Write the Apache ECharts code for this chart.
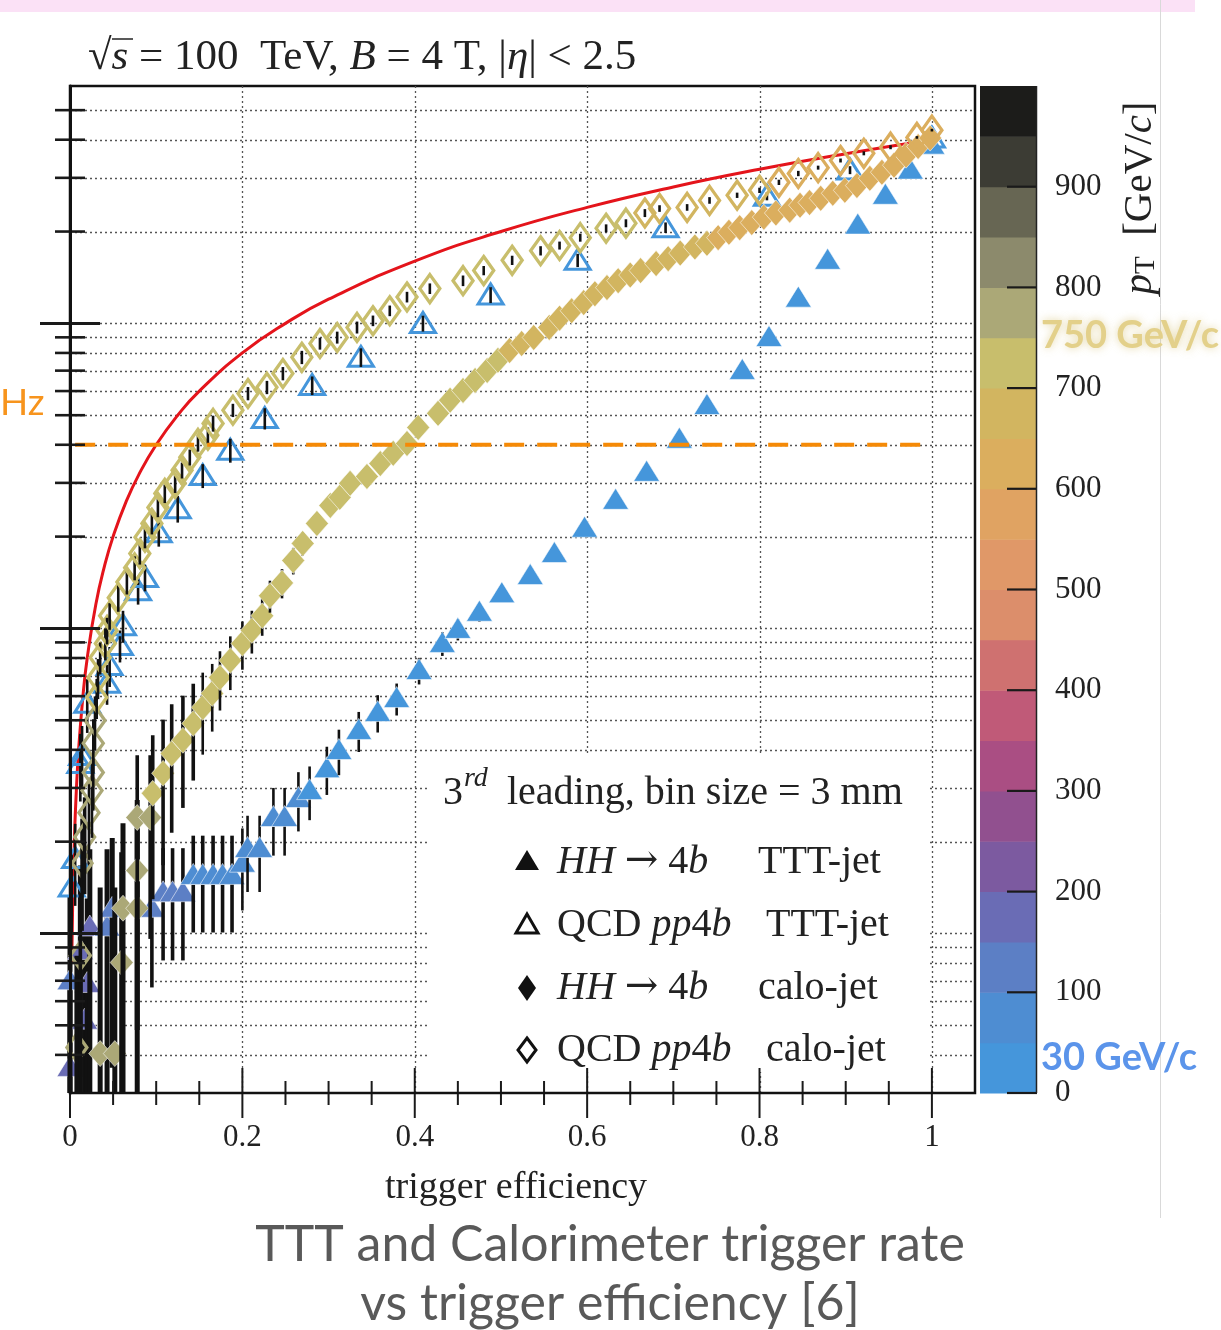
<!DOCTYPE html>
<html><head><meta charset="utf-8">
<script src="https://cdn.jsdelivr.net/npm/echarts@6/dist/echarts.min.js"></script>
<style>html,body{margin:0;padding:0;background:#fff}#c{width:1221px;height:1330px}</style>
</head><body><div id="c"></div>
<script>
// ---------------- DATA ----------------
// axis ranges
const Y_MIN = 3e4, Y_MAX = 6e7, X_MAX = 1.05;
const xMajorTicks = [0, 0.2, 0.4, 0.6, 0.8, 1.0];
const xTickLabels = ['0', '0.2', '0.4', '0.6', '0.8', '1'];
const xMinorTicks = [0.05,0.1,0.15,0.25,0.3,0.35,0.45,0.5,0.55,0.65,0.7,0.75,0.85,0.9,0.95];
const yMajorTicks = [1e5, 1e6, 1e7];
const yMinorTicks = [4e4,5e4,6e4,7e4,8e4,9e4,2e5,3e5,4e5,5e5,6e5,7e5,8e5,9e5,2e6,3e6,4e6,5e6,6e6,7e6,8e6,9e6,2e7,3e7,4e7,5e7];
const ptEdges = [0,50,100,150,200,250,300,350,400,450,500,550,600,650,700,750,800,850,900,950,1000];
const ptTicks = [0,100,200,300,400,500,600,700,800,900];

// HH -> 4b, TTT-jet (filled triangles)
const effHHTTT = [0.0,0.017,0.0,0.020,0.012,0.023,0.043,0.049,0.095,0.108,0.119,0.131,0.143,0.154,0.166,0.177,0.188,0.200,0.206,0.220,0.236,0.249,0.265,0.278,0.298,0.312,0.335,0.357,0.379,0.405,0.432,0.450,0.475,0.501,0.534,0.562,0.597,0.633,0.669,0.707,0.739,0.780,0.811,0.845,0.879,0.914,0.946,0.975,1.0];
const rateHHTTT = [3.64e4,5.2e4,7.0e4,6.86e4,8.8e4,1.05e5,1.05e5,1.21e5,1.21e5,1.36e5,1.36e5,1.36e5,1.55e5,1.55e5,1.55e5,1.55e5,1.55e5,1.70e5,1.90e5,1.90e5,2.40e5,2.40e5,2.77e5,2.94e5,3.47e5,3.98e5,4.63e5,5.30e5,5.89e5,7.28e5,8.93e5,9.93e5,1.13e6,1.30e6,1.49e6,1.76e6,2.13e6,2.63e6,3.25e6,4.17e6,5.38e6,7.01e6,8.99e6,1.21e7,1.61e7,2.10e7,2.63e7,3.18e7,3.84e7];
const ptHHTTT = [190,180,140,170,165,150,145,130,120,110,105,100,95,90,85,80,75,70,66,62,58,55,52,49,48,47,46,45,44,43,42,41,40,39,38,37,36,35,34,30,28,26,24,22,20,18,16,14,12];
const errHHTTT = [1.0,1.0,0.9,0.9,0.9,0.8,0.8,0.7,0.45,0.4,0.4,0.4,0.35,0.35,0.35,0.35,0.35,0.3,0.28,0.28,0.25,0.25,0.22,0.2,0.18,0.17,0.15,0.14,0.12,0.1,0.09,0.08,0.07,0.06,0.05,0.05,0.04,0.04,0.03,0.03,0.02,0.02,0.02,0.02,0.015,0.015,0.01,0.01,0.01];

// QCD pp4b, TTT-jet (open triangles)
const effQCDTTT = [0.002,0.006,0.012,0.014,0.020,0.043,0.046,0.058,0.0615,0.079,0.087,0.103,0.125,0.154,0.186,0.226,0.281,0.3375,0.4095,0.488,0.589,0.691,0.8086,0.905,1.0];
const rateQCDTTT = [1.42e5,1.76e5,3.61e5,3.83e5,5.68e5,6.61e5,7.56e5,8.79e5,1.02e6,1.33e6,1.47e6,2.06e6,2.47e6,3.17e6,3.84e6,4.88e6,6.26e6,7.74e6,1.00e7,1.24e7,1.61e7,2.06e7,2.61e7,3.18e7,4.05e7];
const ptQCDTTT = [45,45,44,44,43,43,42,42,41,40,40,39,38,37,36,35,34,33,32,31,30,28,26,24,22];
const errQCDTTT = [0.3,0.3,0.25,0.25,0.2,0.15,0.15,0.12,0.12,0.1,0.1,0.1,0.1,0.09,0.09,0.08,0.07,0.07,0.06,0.06,0.05,0.04,0.03,0.03,0.02];

// HH -> 4b, calo-jet (filled diamonds)
const effHHcalo = [0.035,0.052,0.060,0.0615,0.078,0.078,0.078,0.093,0.096,0.108,
  0.118,0.131,0.143,0.154,0.165,0.174,0.186,0.200,0.211,0.223,
  0.232,0.246,0.259,0.270,0.2865,0.302,0.313,0.325,0.3445,0.360,
  0.375,0.391,0.404,0.427,0.441,0.456,0.470,0.484,0.4965,0.510,
  0.524,0.538,0.556,0.568,0.582,0.596,0.609,0.623,0.636,0.650,
  0.662,0.680,0.694,0.708,0.725,0.739,0.752,0.7645,0.777,0.791,
  0.805,0.819,0.835,0.847,0.858,0.871,0.885,0.899,0.913,0.928,
  0.942,0.956,0.970,0.984,0.998];
const rateHHcalo = [4.04e4,4.04e4,8.03e4,1.21e5,1.21e5,1.61e5,2.40e5,2.40e5,2.88e5,3.35e5,
  3.89e5,4.30e5,4.88e5,5.51e5,6.12e5,6.90e5,7.85e5,8.93e5,9.85e5,1.10e6,
  1.28e6,1.41e6,1.67e6,1.90e6,2.21e6,2.53e6,2.69e6,2.99e6,3.15e6,3.47e6,
  3.75e6,4.04e6,4.56e6,5.07e6,5.60e6,6.03e6,6.50e6,7.01e6,7.57e6,8.15e6,
  8.59e6,8.99e6,9.70e6,1.04e7,1.10e7,1.17e7,1.25e7,1.31e7,1.38e7,1.44e7,
  1.49e7,1.57e7,1.63e7,1.70e7,1.78e7,1.83e7,1.91e7,1.99e7,2.06e7,2.14e7,
  2.23e7,2.30e7,2.35e7,2.44e7,2.49e7,2.57e7,2.67e7,2.73e7,2.83e7,2.99e7,
  3.13e7,3.30e7,3.56e7,3.80e7,4.05e7];
const ptHHcalo = [790,788,785,782,780,776,772,768,745,744,
  743,742,741,740,739,738,737,736,735,734,
  733,732,731,730,729,728,727,726,725,724,
  723,722,720,718,716,714,712,710,705,698,
  695,692,690,688,686,684,682,680,678,676,
  674,672,670,668,666,662,648,645,642,640,
  638,636,634,632,630,628,626,624,622,620,
  618,616,614,612,610];
const errHHcalo = [2.5,2.5,1.3,0.9,0.9,0.7,0.6,0.6,0.55,0.5,
  0.45,0.4,0.35,0.3,0.25,0.22,0.2,0.18,0.16,0.14,
  0.12,0.11,0.1,0.09,0.08,0.07,0.07,0.06,0.06,0.05,
  0.05,0.05,0.04,0.04,0.04,0.035,0.035,0.03,0.03,0.03,
  0.03,0.025,0.025,0.025,0.02,0.02,0.02,0.02,0.02,0.02,
  0.02,0.015,0.015,0.015,0.015,0.015,0.015,0.015,0.01,0.01,
  0.01,0.01,0.01,0.01,0.01,0.01,0.01,0.01,0.01,0.01,
  0.01,0.01,0.01,0.01,0.01];

// QCD pp4b, calo-jet (open diamonds)
const effQCDcalo = [0.008,0.012,0.014,0.017,0.022,0.0255,0.027,0.027,0.029,0.031,
  0.0325,0.035,0.041,0.043,0.046,0.056,0.066,0.075,0.081,0.087,
  0.095,0.102,0.110,0.122,0.130,0.139,0.1485,0.160,0.166,0.189,
  0.2065,0.2285,0.247,0.269,0.290,0.310,0.333,0.3515,0.371,0.391,
  0.4175,0.456,0.480,0.513,0.546,0.568,0.592,0.622,0.645,0.667,
  0.684,0.716,0.742,0.774,0.800,0.8225,0.845,0.868,0.894,0.921,
  0.952,0.9826,1.0];
const rateQCDcalo = [4.23e4,8.47e4,1.70e5,2.07e5,2.49e5,2.94e5,3.37e5,4.20e5,4.99e5,5.94e5,
  6.90e5,8.03e5,8.93e5,9.85e5,1.10e6,1.26e6,1.42e6,1.58e6,1.76e6,1.99e6,
  2.21e6,2.49e6,2.77e6,2.99e6,3.30e6,3.64e6,4.04e6,4.30e6,4.70e6,5.19e6,
  5.89e6,6.17e6,6.85e6,7.74e6,8.59e6,8.99e6,9.70e6,1.02e7,1.10e7,1.22e7,
  1.30e7,1.38e7,1.49e7,1.61e7,1.73e7,1.80e7,1.91e7,2.05e7,2.13e7,2.30e7,
  2.38e7,2.40e7,2.53e7,2.63e7,2.73e7,2.90e7,3.10e7,3.24e7,3.42e7,3.61e7,
  3.78e7,4.07e7,4.30e7];
const ptQCDcalo = [790,785,780,776,772,768,764,760,756,748,
  746,744,742,740,739,738,737,736,735,734,
  733,732,731,730,729,728,727,726,725,724,
  723,722,721,720,719,718,717,716,715,714,
  713,712,711,710,708,706,704,702,701,690,
  685,680,675,670,660,645,640,635,630,625,
  620,615,610];
const errQCDcalo = [1.0,0.6,0.4,0.35,0.3,0.3,0.25,0.2,0.2,0.15,
  0.15,0.12,0.12,0.1,0.1,0.1,0.09,0.09,0.08,0.08,
  0.08,0.07,0.07,0.07,0.06,0.06,0.06,0.06,0.06,0.05,
  0.05,0.05,0.05,0.05,0.045,0.045,0.045,0.04,0.04,0.04,
  0.04,0.04,0.035,0.035,0.035,0.03,0.03,0.03,0.03,0.03,
  0.025,0.025,0.025,0.02,0.02,0.02,0.02,0.015,0.015,0.015,
  0.015,0.01,0.01];

// ideal (red) curve
const effIdeal = [0.002,0.003,0.004,0.005,0.007,0.01,0.015,0.02,0.03,0.04,0.05,0.065,0.08,0.1,0.125,0.15,0.2,0.25,0.3,0.4,0.5,0.6,0.7,0.8,0.9,1.0];
const rateIdeal = [8.0e4,1.2e5,1.6e5,2.0e5,2.8e5,4.0e5,6.0e5,8.0e5,1.2e6,1.6e6,2.0e6,2.6e6,3.2e6,4.0e6,5.0e6,6.0e6,8.0e6,1.0e7,1.2e7,1.6e7,2.0e7,2.4e7,2.8e7,3.2e7,3.6e7,4.0e7];

// 4 MHz threshold line
const thresholdRate = 4e6;
const thresholdEff = [0.006, 0.992];

// ---------------- STYLE ----------------
const SERIF = 'Liberation Serif';
const palette = ['#4596db','#4e8dd2','#5c7fc5','#6a6cb5','#7c5aa0','#91508f','#aa4e83','#c05a78','#cf7170','#dc8e6b',
                 '#e09868','#e0a362','#dbae5e','#d2b560','#c8be6c','#aba877','#8c8a6c','#676653','#3c3c34','#1c1c1a'];

const SHAPES = {
  triFilled: { pts: [[0,-12],[13,9],[-13,9]], filled: true },
  triOpen:   { pts: [[0,-11],[12.5,9],[-12.5,9]], filled: false, lw: 3 },
  diaFilled: { pts: [[0,-13],[11.5,0],[0,13],[-11.5,0]], filled: true },
  diaOpen:   { pts: [[0,-14],[10,0],[0,14],[-10,0]], filled: false, lw: 3.3 }
};

function markerRender(kind) {
  const S = SHAPES[kind];
  return function (params, api) {
    const x = api.value(0), y = api.value(1), f = api.value(3);
    const c = api.coord([x, y]);
    const lo = Math.max(y * (1 - f), Y_MIN), hi = Math.min(y * (1 + f), Y_MAX);
    const a = api.coord([x, hi]), b = api.coord([x, lo]);
    const col = api.visual('color');
    const w = f >= 0.7 ? 5 : (f > 0.3 ? 3.6 : 2.6);
    const bar = { type: 'line', shape: { x1: c[0], y1: a[1], x2: c[0], y2: b[1] }, style: { stroke: '#111', lineWidth: w } };
    const pts = S.pts.map(p => [c[0] + p[0], c[1] + p[1]]);
    const mk = { type: 'polygon', shape: { points: pts },
      style: S.filled ? { fill: col, stroke: 'rgba(255,255,255,0.55)', lineWidth: 1 } : { fill: 'rgba(0,0,0,0)', stroke: col, lineWidth: S.lw } };
    return { type: 'group', children: S.filled ? [bar, mk] : [mk, bar] };
  };
}
function pack(xs, ys, pts, errs) { return xs.map((x, i) => [x, ys[i], pts[i], errs[i]]); }

function hGridRender(params, api) {
  const v = api.value(1);
  const a = api.coord([0, v]), b = api.coord([X_MAX, v]);
  return { type: 'line', shape: { x1: a[0], y1: Math.round(a[1]) + 0.5, x2: b[0], y2: Math.round(a[1]) + 0.5 },
    style: { stroke: '#555', lineWidth: 1.3, lineDash: [2, 3] } };
}
function vGridRender(params, api) {
  const v = api.value(0);
  const a = api.coord([v, Y_MIN]), b = api.coord([v, Y_MAX]);
  return { type: 'line', shape: { x1: Math.round(a[0]) + 0.5, y1: a[1], x2: Math.round(a[0]) + 0.5, y2: b[1] },
    style: { stroke: '#555', lineWidth: 1.3, lineDash: [2, 3] } };
}
function yTickRender(params, api) {
  const v = api.value(1), major = api.value(2) === 1;
  const c = api.coord([0, v]); const h = major ? 30 : 15;
  return { type: 'line', shape: { x1: c[0] - h, y1: c[1], x2: c[0] + h, y2: c[1] }, style: { stroke: '#1a1a1a', lineWidth: major ? 3 : 2.6 } };
}
function xTickRender(params, api) {
  const v = api.value(0), major = api.value(2) === 1;
  const c = api.coord([v, Y_MIN]); const h = major ? 25 : 12;
  return { type: 'line', shape: { x1: c[0], y1: c[1] - h, x2: c[0], y2: c[1] + h }, style: { stroke: '#1a1a1a', lineWidth: 2 } };
}
function bandRender(params, api) {
  const lo = api.value(1), hi = api.value(2), idx = api.value(3);
  const a = api.coord([0, hi]), b = api.coord([1, lo]);
  return { type: 'rect', shape: { x: a[0], y: a[1], width: b[0] - a[0], height: b[1] - a[1] + 0.5 }, style: { fill: palette[idx] } };
}
function cbTickRender(params, api) {
  const v = api.value(1);
  const c = api.coord([1, v]);
  return { type: 'line', shape: { x1: c[0] - 30, y1: c[1], x2: c[0], y2: c[1] }, style: { stroke: '#1a1a1a', lineWidth: 2.2 } };
}
function cbEdgeRender(params, api) {
  const a = api.coord([1, 0]), b = api.coord([1, 1000]);
  return { type: 'line', shape: { x1: a[0] - 0.5, y1: a[1], x2: b[0] - 0.5, y2: b[1] }, style: { stroke: '#222', lineWidth: 1.5 } };
}

function T(x, y, text, size, o) {
  o = o || {};
  const fam = o.family || SERIF, col = o.color || '#222';
  const style = { text, fontSize: size, fontFamily: fam, fontStyle: o.italic ? 'italic' : 'normal', fontWeight: o.weight || 'normal',
    fill: col, align: o.align || 'left', verticalAlign: o.va || 'middle' };
  style.rich = { i: { fontStyle: 'italic', fontSize: size, fontFamily: fam, fill: col },
                 a: { fontSize: size, fontFamily: 'DejaVu Serif', fill: col },
                 s: { fontSize: Math.round(size * 0.7), fontFamily: fam, fill: col, verticalAlign: 'bottom' } };
  if (o.shadow) { style.textShadowColor = o.shadow; style.textShadowBlur = 8; }
  return { type: 'text', x, y, rotation: o.rot || 0, z: o.z || 50, style };
}
function poly(points, filled, z) {
  return { type: 'polygon', z: z || 50, shape: { points },
    style: filled ? { fill: '#111' } : { fill: 'rgba(0,0,0,0)', stroke: '#111', lineWidth: 3 } };
}

const chart = echarts.init(document.getElementById('c'), null, { renderer: 'canvas' });

const option = {
  animation: false,
  backgroundColor: '#fff',
  grid: [
    { left: 70, top: 86, width: 905, height: 1007, show: true, borderColor: '#111', borderWidth: 2.5, backgroundColor: 'rgba(0,0,0,0)' },
    { left: 980, top: 86, width: 57, height: 1007 }
  ],
  xAxis: [
    { gridIndex: 0, type: 'value', min: 0, max: X_MAX, interval: 0.2, z: 20,
      axisLine: { show: true, onZero: false, lineStyle: { color: '#111', width: 2 } },
      axisTick: { show: false }, splitLine: { show: false },
      axisLabel: { margin: 29, fontFamily: SERIF, fontSize: 31, color: '#222',
        formatter: v => { const i = xMajorTicks.findIndex(t => Math.abs(t - v) < 1e-6); return i >= 0 ? xTickLabels[i] : ''; } } },
    { gridIndex: 1, type: 'value', min: 0, max: 1, show: false }
  ],
  yAxis: [
    { gridIndex: 0, type: 'log', logBase: 10, min: Y_MIN, max: Y_MAX, z: 20,
      axisLine: { show: true, onZero: false, lineStyle: { color: '#111', width: 3 } },
      axisTick: { show: false }, axisLabel: { show: false }, splitLine: { show: false } },
    { gridIndex: 1, type: 'value', min: 0, max: 1000, interval: 100, position: 'right', z: 20,
      axisLine: { show: false }, axisTick: { show: false },
      axisLabel: { margin: 18, fontFamily: SERIF, fontSize: 31, color: '#222', formatter: v => v >= 1000 ? '' : String(v) },
      splitLine: { show: false } }
  ],
  visualMap: {
    type: 'piecewise', show: false, dimension: 2, seriesIndex: [3, 4, 5, 6],
    pieces: palette.map((c, i) => ({ gte: ptEdges[i], lt: ptEdges[i + 1], color: c }))
  },
  series: [
    { type: 'custom', z: 1, silent: true, xAxisIndex: 0, yAxisIndex: 0, encode: { x: 0, y: 1 },
      data: yMajorTicks.concat(yMinorTicks).map(v => [0, v]), renderItem: hGridRender },
    { type: 'custom', z: 1, silent: true, xAxisIndex: 0, yAxisIndex: 0, encode: { x: 0, y: 1 },
      data: xMajorTicks.slice(1).map(v => [v, Y_MIN]), renderItem: vGridRender },
    { type: 'line', z: 3, xAxisIndex: 0, yAxisIndex: 0, smooth: true, symbol: 'none',
      data: effIdeal.map((x, i) => [x, rateIdeal[i]]), lineStyle: { color: '#e4141b', width: 3 } },
    { type: 'custom', name: 'HH TTT', z: 4, xAxisIndex: 0, yAxisIndex: 0, encode: { x: 0, y: 1 },
      data: pack(effHHTTT, rateHHTTT, ptHHTTT, errHHTTT), renderItem: markerRender('triFilled') },
    { type: 'custom', name: 'QCD TTT', z: 4, xAxisIndex: 0, yAxisIndex: 0, encode: { x: 0, y: 1 },
      data: pack(effQCDTTT, rateQCDTTT, ptQCDTTT, errQCDTTT), renderItem: markerRender('triOpen') },
    { type: 'custom', name: 'HH calo', z: 4, xAxisIndex: 0, yAxisIndex: 0, encode: { x: 0, y: 1 },
      data: pack(effHHcalo, rateHHcalo, ptHHcalo, errHHcalo), renderItem: markerRender('diaFilled') },
    { type: 'custom', name: 'QCD calo', z: 4, xAxisIndex: 0, yAxisIndex: 0, encode: { x: 0, y: 1 },
      data: pack(effQCDcalo, rateQCDcalo, ptQCDcalo, errQCDcalo), renderItem: markerRender('diaOpen') },
    { type: 'line', z: 6, xAxisIndex: 0, yAxisIndex: 0, symbol: 'none',
      data: thresholdEff.map(x => [x, thresholdRate]), lineStyle: { color: '#f58a07', width: 4, type: [20, 13] } },
    { type: 'custom', z: 10, silent: true, xAxisIndex: 0, yAxisIndex: 0, encode: { x: 0, y: 1 },
      data: yMajorTicks.map(v => [0, v, 1]).concat(yMinorTicks.map(v => [0, v, 0])), renderItem: yTickRender },
    { type: 'custom', z: 10, silent: true, xAxisIndex: 0, yAxisIndex: 0, encode: { x: 0, y: 1 },
      data: xMajorTicks.map(v => [v, Y_MIN, 1]).concat(xMinorTicks.map(v => [v, Y_MIN, 0])), renderItem: xTickRender },
    { type: 'custom', z: 2, silent: true, xAxisIndex: 1, yAxisIndex: 1, encode: { x: 0, y: 1 },
      data: ptEdges.slice(0, -1).map((lo, i) => [0.5, lo, ptEdges[i + 1], i]), renderItem: bandRender },
    { type: 'custom', z: 10, silent: true, xAxisIndex: 1, yAxisIndex: 1, encode: { x: 0, y: 1 },
      data: ptTicks.map(v => [1, v]), renderItem: cbTickRender },
    { type: 'custom', z: 10, silent: true, xAxisIndex: 1, yAxisIndex: 1, encode: { x: 0, y: 1 },
      data: [[1, 0]], renderItem: cbEdgeRender }
  ],
  graphic: [
    { type: 'rect', z: 0, shape: { x: 0, y: 0, width: 1195, height: 12 }, style: { fill: '#fbe1f6' } },
    { type: 'line', z: 0, shape: { x1: 1160.5, y1: 0, x2: 1160.5, y2: 1218 }, style: { stroke: '#d9d9d9', lineWidth: 1 } },
    // title
    T(88, 58, '√{i|s} = 100  TeV, {i|B} = 4 T, |{i|η}| < 2.5', 43),
    { type: 'line', z: 50, shape: { x1: 112, y1: 39, x2: 133, y2: 39 }, style: { stroke: '#222', lineWidth: 1.5 } },
    // legend box
    { type: 'rect', z: 5, shape: { x: 428, y: 756, width: 500, height: 316 }, style: { fill: '#fff' } },
    T(443, 793, '3', 40),
    T(464, 779, 'rd', 28, { italic: true }),
    T(507, 793, 'leading, bin size = 3 mm', 40),
    poly([[527, 850], [539, 870], [515, 870]], true),
    T(557, 862, '{i|HH} {a|→} 4{i|b}', 40),
    T(758, 862, 'TTT-jet', 40),
    poly([[527, 914], [538, 933], [516, 933]], false),
    T(557, 925, 'QCD {i|pp}4{i|b}', 40),
    T(766, 925, 'TTT-jet', 40),
    poly([[527, 975], [536, 988], [527, 1001], [518, 988]], true),
    T(557, 988, '{i|HH} {a|→} 4{i|b}', 40),
    T(758, 988, 'calo-jet', 40),
    poly([[527, 1038], [536, 1050], [527, 1062], [518, 1050]], false),
    T(557, 1050, 'QCD {i|pp}4{i|b}', 40),
    T(766, 1050, 'calo-jet', 40),
    // x-axis name
    T(516, 1188, 'trigger efficiency', 38, { align: 'center' }),
    // colorbar title (rotated)
    T(1140, 198, '{i|p}{s|T}  [GeV/{i|c}]', 41, { align: 'center', rot: Math.PI / 2 }),
    // overlay annotations
    T(0, 403, 'Hz', 37, { family: 'Lato', color: '#f7941d' }),
    T(1041, 336, '750 GeV/c', 38, { family: 'Lato', weight: 'bold', color: '#e3d08a', shadow: 'rgba(215,195,120,0.7)', z: 60 }),
    T(1041, 1058, '30 GeV/c', 38, { family: 'Lato', weight: 'bold', color: '#5b94ea', z: 60 }),
    // caption
    T(610, 1245, 'TTT and Calorimeter trigger rate', 50, { family: 'Lato', color: '#595959', align: 'center' }),
    T(610, 1304, 'vs trigger efficiency [6]', 50, { family: 'Lato', color: '#595959', align: 'center' })
  ]
};
chart.setOption(option);
</script>
</body></html>
